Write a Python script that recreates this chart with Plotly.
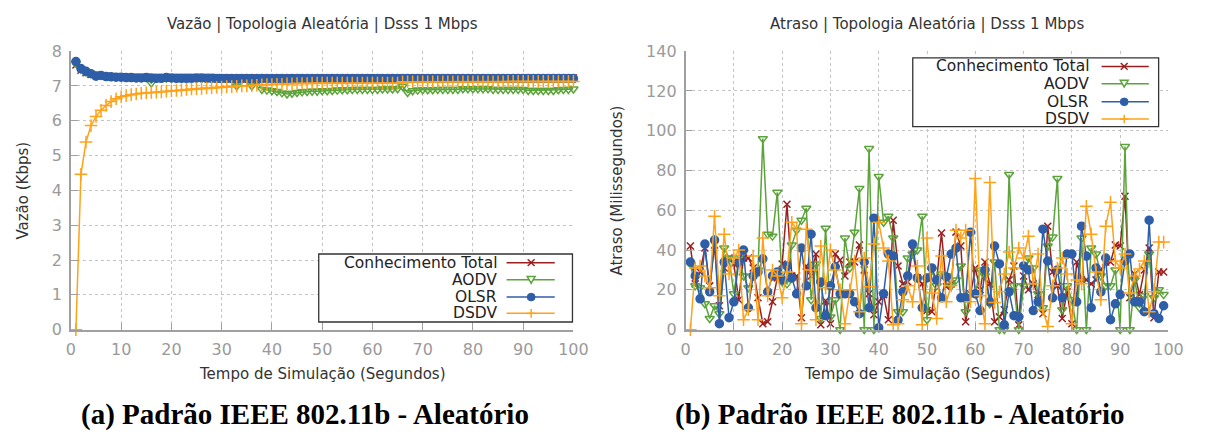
import plotly.graph_objects as go

W, H = 1211, 443

# ---------------- data ----------------
t_vazao = list(range(1, 101))
vazao_conhecimento = [7.6, 7.45, 7.38, 7.33, 7.3, 7.29, 7.28, 7.27, 7.26, 7.26,
                      7.25, 7.25, 7.25, 7.25, 7.25, 7.24, 7.24, 7.24, 7.24, 7.24,
                      7.24, 7.24, 7.24, 7.24, 7.24, 7.24, 7.24, 7.24, 7.24, 7.23,
                      7.23, 7.23, 7.23, 7.23, 7.23, 7.23, 7.23, 7.23, 7.23, 7.23,
                      7.23, 7.23, 7.23, 7.23, 7.23, 7.23, 7.23, 7.23, 7.23, 7.23,
                      7.23, 7.23, 7.23, 7.23, 7.23, 7.23, 7.23, 7.23, 7.23, 7.23,
                      7.23, 7.23, 7.23, 7.23, 7.23, 7.23, 7.23, 7.23, 7.23, 7.23,
                      7.23, 7.23, 7.23, 7.23, 7.23, 7.23, 7.23, 7.23, 7.23, 7.23,
                      7.23, 7.23, 7.23, 7.23, 7.23, 7.23, 7.23, 7.23, 7.23, 7.23,
                      7.23, 7.23, 7.23, 7.23, 7.23, 7.23, 7.23, 7.23, 7.23, 7.23]
vazao_aodv = [7.65, 7.48, 7.4, 7.36, 7.34, 7.32, 7.3, 7.28, 7.27, 7.26,
              7.25, 7.25, 7.24, 7.24, 7.24, 7.08, 7.23, 7.23, 7.23, 7.23,
              7.22, 7.22, 7.22, 7.22, 7.22, 7.22, 7.22, 7.22, 7.22, 7.22,
              7.22, 7.21, 7.0, 7.2, 7.2, 7.0, 7.1, 6.9, 6.88, 6.86,
              6.84, 6.8, 6.77, 6.79, 6.81, 6.83, 6.84, 6.85, 6.85, 6.86,
              6.86, 6.87, 6.88, 6.89, 6.89, 6.9, 6.9, 6.9, 6.9, 6.9,
              6.9, 6.91, 6.91, 6.91, 6.92, 6.99, 6.81, 6.86, 6.88, 6.89,
              6.89, 6.89, 6.9, 6.9, 6.9, 6.9, 6.9, 6.92, 6.92, 6.92,
              6.92, 6.92, 6.92, 6.9, 6.9, 6.9, 6.9, 6.9, 6.9, 6.9,
              6.87, 6.87, 6.87, 6.87, 6.87, 6.87, 6.89, 6.9, 6.9, 6.91]
vazao_olsr = [7.7, 7.5, 7.42, 7.35, 7.28, 7.3, 7.27, 7.26, 7.25, 7.25,
              7.24, 7.24, 7.23, 7.23, 7.24, 7.23, 7.22, 7.22, 7.24, 7.23,
              7.22, 7.22, 7.22, 7.22, 7.23, 7.23, 7.22, 7.22, 7.21, 7.21,
              7.21, 7.21, 7.21, 7.21, 7.21, 7.21, 7.21, 7.21, 7.21, 7.21,
              7.21, 7.21, 7.21, 7.21, 7.21, 7.21, 7.21, 7.21, 7.21, 7.21,
              7.21, 7.21, 7.21, 7.21, 7.21, 7.21, 7.21, 7.21, 7.21, 7.21,
              7.21, 7.21, 7.21, 7.21, 7.21, 7.21, 7.21, 7.21, 7.21, 7.21,
              7.21, 7.21, 7.21, 7.21, 7.21, 7.21, 7.21, 7.21, 7.21, 7.21,
              7.21, 7.21, 7.21, 7.21, 7.21, 7.21, 7.21, 7.21, 7.21, 7.21,
              7.21, 7.21, 7.21, 7.21, 7.21, 7.21, 7.21, 7.21, 7.21, 7.21]
vazao_dsdv = [0.0, 4.46, 5.39, 5.86, 6.12, 6.3, 6.44, 6.55, 6.63, 6.69,
              6.72, 6.75, 6.77, 6.79, 6.8, 6.81, 6.82, 6.83, 6.85, 6.86,
              6.87, 6.88, 6.9, 6.91, 6.92, 6.93, 6.94, 6.95, 6.96, 6.97,
              6.98, 6.98, 6.99, 7.0, 7.0, 7.01, 7.02, 7.03, 7.04, 7.04,
              7.05, 7.05, 7.06, 7.06, 7.07, 7.07, 7.07, 7.08, 7.08, 7.08,
              7.08, 7.08, 7.08, 7.08, 7.08, 7.08, 7.08, 7.08, 7.08, 7.08,
              7.08, 7.08, 7.08, 7.08, 7.08, 7.12, 7.12, 7.12, 7.12, 7.12,
              7.12, 7.12, 7.12, 7.12, 7.12, 7.12, 7.12, 7.12, 7.12, 7.12,
              7.12, 7.12, 7.12, 7.12, 7.12, 7.12, 7.13, 7.13, 7.13, 7.13,
              7.13, 7.13, 7.13, 7.13, 7.13, 7.13, 7.13, 7.13, 7.13, 7.13]

t_atraso = list(range(1, 100))
atraso_conhecimento = [42, 23, 29, 41, 22, 42.5, 12, 31, 36, 33, 15, 36, 36, 31, 16, 3, 4, 14, 26, 33,
                       63, 27, 27, 6, 32, 27, 38, 2.5, 14.5, 3, 38, 35, 27, 34, 34, 42.5, 30, 18, 7.5, 14,
                       17.6, 5, 55, 32, 23, 24, 40, 26, 23, 9.6,
                       9, 25, 48.6, 21.6, 23, 49, 42, 4, 18, 31, 20, 34, 23, 4, 6.4, 10, 25, 32, 2.4, 27,
                       20, 23, 17.6, 8, 52, 29, 22, 5.6, 19, 3, 34, 25, 25, 23, 25, 30, 34, 34, 42.5, 42,
                       67, 16, 28, 17.6, 30, 41, 6, 29, 29]
atraso_aodv = [33, 22, 21, 13, 5.6, 12, 8, 41, 36, 18, 36, 27, 21, 27, 30, 96, 48, 47, 69, 24,
               23, 42.5, 50, 55, 61, 15, 33, 5.6, 51, 6.4, 15, 0, 46, 31, 49, 71, 0, 91, 0, 77,
               54, 57, 46, 9, 9, 36, 38, 40, 57, 5,
               30, 22, 28, 27, 22, 25, 32, 9, 18, 18, 30, 27, 13, 34, 0, 0, 78, 22, 0, 22,
               36, 31, 18, 11, 42, 46.5, 76, 10, 22, 15, 0, 46, 0, 41, 38, 27, 22, 22, 30, 0,
               92, 0, 25, 11, 17, 38, 16, 20, 17.6]
atraso_olsr = [34, 27, 15.5, 43, 19, 45, 3, 34, 6, 14, 34, 40, 11, 27, 29, 35.6, 19, 27, 29, 25,
               32, 26, 18, 41, 22, 48, 11, 24, 7, 22, 31.6, 18, 18, 18, 14, 8, 34, 11, 56, 1,
               18, 38, 37, 4.8, 19, 27, 43, 26, 11, 26,
               31, 25, 16, 26.5, 38, 41, 16, 16, 49, 18, 9.6, 30, 14, 42, 33, 2.4, 19, 7, 6.4, 32,
               30, 9.6, 14, 50.5, 34.5, 16, 30, 16, 38, 38, 14, 52, 37, 11, 31, 19, 36, 5, 13, 17.6,
               34.5, 38, 14, 14, 9, 55, 8, 5.6, 12]
atraso_dsdv = [0, 31, 32, 27, 21, 57, 17, 48, 28, 36, 40, 5, 10, 37, 5, 46, 17, 30, 27, 16,
               29, 54, 50.5, 3, 50.5, 30, 5, 42, 21, 40, 30, 20, 3, 20, 34.5, 9, 36, 21.6, 43, 54,
               41, 34.5, 2.5, 3, 15, 22, 14, 32, 2.5, 46,
               18.4, 5.6, 37, 14, 22, 50, 46, 50, 14, 76, 17, 3, 74, 13.6, 19, 28, 39, 31, 41, 36,
               47, 23, 38, 10, 1.6, 22, 31, 36, 28, 3, 25, 23, 62, 48, 29, 15, 52, 64, 34.5, 31,
               38, 18.4, 27, 30.5, 34.5, 9, 19, 44, 44]

series_names = ["Conhecimento Total", "AODV", "OLSR", "DSDV"]
colors = ["#9b1f1f", "#5ba33a", "#2f5ea8", "#ffa21a"]
symbols = ["x-thin-open", "triangle-down-open", "circle", "cross-thin-open"]
msizes = [7, 8, 8, 9]

x_ticks = list(range(0, 101, 10))

# ---------------- figure ----------------
def px(x):
    return x / W

def py(y):
    return 1 - y / H

fig = go.Figure()

left_series = [vazao_conhecimento, vazao_aodv, vazao_olsr, vazao_dsdv]
right_series = [atraso_conhecimento, atraso_aodv, atraso_olsr, atraso_dsdv]

for i, name in enumerate(series_names):
    mk = dict(symbol=symbols[i], size=msizes[i], color=colors[i],
              line=dict(color=colors[i], width=1.5))
    fig.add_trace(go.Scatter(x=t_vazao, y=left_series[i], mode="lines+markers", name=name,
                             line=dict(color=colors[i], width=1.5), marker=mk,
                             xaxis="x", yaxis="y", showlegend=False, cliponaxis=False))
for i, name in enumerate(series_names):
    mk = dict(symbol=symbols[i], size=msizes[i], color=colors[i],
              line=dict(color=colors[i], width=1.5))
    fig.add_trace(go.Scatter(x=t_atraso, y=right_series[i], mode="lines+markers", name=name,
                             line=dict(color=colors[i], width=1.5), marker=mk,
                             xaxis="x2", yaxis="y2", showlegend=False, cliponaxis=False))

ydom = [py(335), py(44)]
axis_common = dict(showline=True, linecolor="#a0a0a0", linewidth=1.5, ticks="inside",
                   ticklen=7, tickcolor="#a0a0a0", tickwidth=1, showgrid=True,
                   gridcolor="#c4c4c4", griddash="dot", gridwidth=1, zeroline=False,
                   tickfont=dict(family="DejaVu Sans", size=16, color="#9a9a9a"), mirror=False)

fig.update_layout(
    width=W, height=H, margin=dict(l=0, r=0, t=0, b=0),
    paper_bgcolor="white", plot_bgcolor="white", showlegend=False,
    xaxis=dict(domain=[px(67), px(578)], range=[0, 100], tickvals=x_ticks,
               anchor="y", ticklabelstandoff=4, **axis_common),
    yaxis=dict(domain=ydom, range=[0, 8], dtick=1, anchor="x",
               ticklabelstandoff=4, **axis_common),
    xaxis2=dict(domain=[px(692), px(1183)], range=[0, 100], tickvals=x_ticks,
                anchor="y2", ticklabelstandoff=4, **axis_common),
    yaxis2=dict(domain=ydom, range=[0, 140], dtick=20, anchor="x2",
                ticklabelstandoff=4, **axis_common),
)

ann = []
shapes = []


def add_text(x, y, text, size=14, color="#333333", family="DejaVu Sans", xanchor="center",
             angle=0):
    ann.append(dict(x=px(x), y=py(y), xref="paper", yref="paper", text=text, showarrow=False,
                    xanchor=xanchor, yanchor="middle", textangle=angle,
                    font=dict(family=family, size=size, color=color)))

add_text(322.5, 16, "Vazão | Topologia Aleatória | Dsss 1 Mbps", size=15)
add_text(937.5, 16, "Atraso | Topologia Aleatória | Dsss 1 Mbps", size=15)
add_text(322.5, 381, "Tempo de Simulação (Segundos)", size=15)
add_text(937.5, 381, "Tempo de Simulação (Segundos)", size=15)
add_text(18, 190, "Vazão (Kbps)", size=15, angle=-90)
add_text(622, 190, "Atraso (Milissegundos)", size=15, angle=-90)
add_text(305, 424, "<b>(a) Padrão IEEE 802.11b - Aleatório</b>", size=29,
         color="#000000", family="Liberation Serif")
add_text(910, 424, "<b>(b) Padrão IEEE 802.11b - Aleatório</b>", size=29,
         color="#000000", family="Liberation Serif")


def legend(box, rows, text_right, line_x0, line_x1, mark_x):
    x0, y0, x1, y1 = box
    shapes.append(dict(type="rect", xref="paper", yref="paper", x0=px(x0), x1=px(x1),
                       y0=py(y1), y1=py(y0), line=dict(color="#333333", width=1.3),
                       fillcolor="white", layer="above"))
    for i, name in enumerate(series_names):
        ry = rows[i]
        c = colors[i]
        add_text(text_right, ry, name, size=15.5, color="#222222", xanchor="right")
        shapes.append(dict(type="line", xref="paper", yref="paper", x0=px(line_x0), x1=px(line_x1),
                           y0=py(ry), y1=py(ry), line=dict(color=c, width=1.5), layer="above"))
        s = 3.5
        if i == 0:
            for a, b in [((-s, -s), (s, s)), ((-s, s), (s, -s))]:
                shapes.append(dict(type="line", xref="paper", yref="paper",
                                   x0=px(mark_x + a[0]), y0=py(ry + a[1]),
                                   x1=px(mark_x + b[0]), y1=py(ry + b[1]),
                                   line=dict(color=c, width=1.5), layer="above"))
        elif i == 1:
            path = "M {} {} L {} {} L {} {} Z".format(px(mark_x - 4), py(ry - 3.5), px(mark_x + 4),
                                                      py(ry - 3.5), px(mark_x), py(ry + 3.5))
            shapes.append(dict(type="path", xref="paper", yref="paper", path=path,
                               line=dict(color=c, width=1.5), fillcolor="white", layer="above"))
        elif i == 2:
            shapes.append(dict(type="circle", xref="paper", yref="paper",
                               x0=px(mark_x - 4), x1=px(mark_x + 4), y0=py(ry + 4), y1=py(ry - 4),
                               line=dict(color=c, width=1), fillcolor=c, layer="above"))
        else:
            s = 4.5
            for a, b in [((-s, 0), (s, 0)), ((0, -s), (0, s))]:
                shapes.append(dict(type="line", xref="paper", yref="paper",
                                   x0=px(mark_x + a[0]), y0=py(ry + a[1]),
                                   x1=px(mark_x + b[0]), y1=py(ry + b[1]),
                                   line=dict(color=c, width=1.5), layer="above"))


legend((319, 256, 577, 327), [265, 283, 301, 318], 502, 510, 559, 535)
legend((923, 51, 1173, 123), [60, 78, 97, 115], 1104, 1115, 1163, 1138)

fig.update_layout(annotations=ann, shapes=shapes)
fig.write_html("out.html")
